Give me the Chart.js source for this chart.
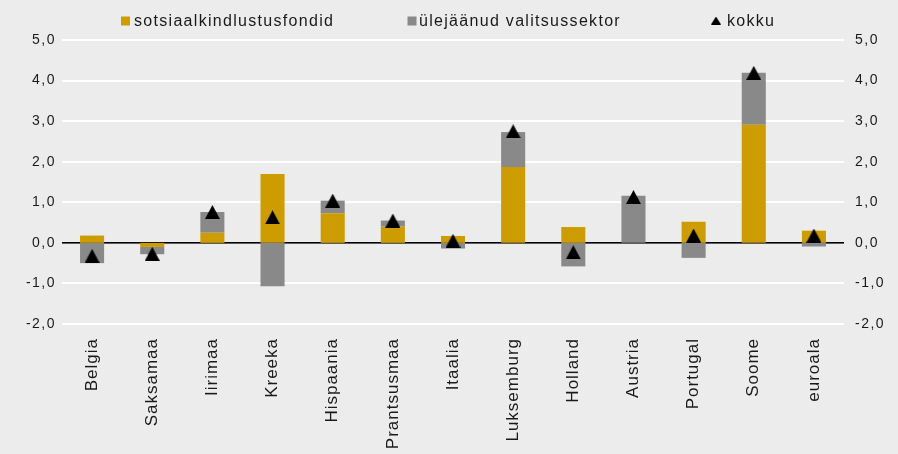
<!DOCTYPE html>
<html><head><meta charset="utf-8">
<script src="https://cdn.jsdelivr.net/npm/chart.js@4/dist/chart.umd.min.js"></script>
<style>html,body{margin:0;padding:0;background:#ececec;} #wrap{width:898px;height:454px;position:relative;}</style>
</head><body><div id="wrap"><canvas id="c"></canvas></div>
<script>
const categories = ['Belgia','Saksamaa','Iirimaa','Kreeka','Hispaania','Prantsusmaa','Itaalia','Luksemburg','Holland','Austria','Portugal','Soome','euroala'];
const socialFunds = [0.18, -0.10, 0.25, 1.70, 0.73, 0.40, 0.17, 1.87, 0.39, 0.00, 0.52, 2.91, 0.30];
const otherGov = [-0.50, -0.18, 0.51, -1.07, 0.31, 0.15, -0.14, 0.86, -0.58, 1.16, -0.37, 1.28, -0.09];
const total = [-0.32, -0.27, 0.76, 0.63, 1.04, 0.55, 0.05, 2.75, -0.23, 1.13, 0.18, 4.19, 0.18];
const yTickValues = [-2, -1, 0, 1, 2, 3, 4, 5];
const seriesLabels = ['sotsiaalkindlustusfondid', 'ülejäänud valitsussektor', 'kokku'];

const FONT = "'Liberation Sans', Arial, Helvetica, sans-serif";
const TEXT = '#1a1a1a';
const YELLOW = '#cc9c00';
const GREY = '#898989';

function triangleCanvas(w, h) {
  const c = document.createElement('canvas');
  c.width = w; c.height = h;
  const g = c.getContext('2d');
  g.fillStyle = '#000';
  g.beginPath(); g.moveTo(w / 2, 0); g.lineTo(w, h); g.lineTo(0, h); g.closePath(); g.fill();
  return c;
}
const tri = triangleCanvas(15, 14);
const triSmall = triangleCanvas(10, 8);

const fmt = v => Number(v).toFixed(1).replace('.', ',');

const spacingPlugin = {
  id: 'spacing',
  afterLayout(chart) {
    const sp = { x: '1px', y: '1.5px', y2: '1.5px' };
    for (const id in sp) {
      const s = chart.scales[id];
      if (!s || s._wrappedLabels) continue;
      const orig = s.drawLabels;
      s.drawLabels = function (a) {
        const ctx = this.ctx; ctx.save();
        try { ctx.letterSpacing = sp[id]; } catch (e) {}
        orig.call(this, a); ctx.restore();
      };
      s._wrappedLabels = true;
    }
  }
};

// white grid lines under the bars and the black zero line, positioned by the y scale
const gridPlugin = {
  id: 'hgrid',
  beforeDatasetsDraw(chart) {
    const ctx = chart.ctx, y = chart.scales.y, a = chart.chartArea;
    ctx.save();
    y.ticks.forEach(t => {
      if (t.value === 0) return;
      const py = Math.round(y.getPixelForValue(t.value));
      ctx.fillStyle = '#ffffff';
      ctx.fillRect(a.left, py - 1, a.right - a.left, 2);
    });
    const p0 = Math.round(y.getPixelForValue(0));
    ctx.fillStyle = '#000000';
    ctx.fillRect(a.left, p0 - 1, a.right - a.left, 1.6);
    ctx.restore();
  }
};

const legendPlugin = {
  id: 'customLegend',
  afterDraw(chart) {
    const ctx = chart.ctx;
    const ds = chart.data.datasets;
    ctx.save();
    ctx.font = '16px ' + FONT;
    ctx.fillStyle = TEXT;
    ctx.textBaseline = 'alphabetic';
    try { ctx.letterSpacing = '1.3px'; } catch (e) {}
    const pos = [{ m: 121, t: 134 }, { m: 407.5, t: 419 }, { m: 711, t: 727 }];
    ds.forEach((d, i) => {
      if (i < 2) {
        ctx.fillStyle = d.backgroundColor;
        ctx.fillRect(pos[i].m, 16.5, 9, 9);
      } else {
        ctx.drawImage(triSmall, pos[i].m, 16.5);
      }
      ctx.fillStyle = TEXT;
      ctx.fillText(d.label, pos[i].t, 25.5);
    });
    try { ctx.letterSpacing = '0px'; } catch (e) {}
    ctx.restore();
  }
};

new Chart(document.getElementById('c'), {
  data: {
    labels: categories,
    datasets: [
      { type: 'bar', label: seriesLabels[0], data: socialFunds, backgroundColor: YELLOW, barPercentage: 0.4, categoryPercentage: 1, stack: 's', order: 1 },
      { type: 'bar', label: seriesLabels[1], data: otherGov, backgroundColor: GREY, barPercentage: 0.4, categoryPercentage: 1, stack: 's', order: 1 },
      { type: 'line', label: seriesLabels[2], data: total, showLine: false, pointStyle: tri, pointRadius: 7, pointHoverRadius: 7, borderColor: '#000', backgroundColor: '#000', stack: 't', order: 0 }
    ]
  },
  options: {
    responsive: true,
    maintainAspectRatio: false,
    animation: false,
    devicePixelRatio: 1,
    layout: { padding: { top: 40, left: 0, right: 0, bottom: 0 } },
    plugins: { legend: { display: false }, tooltip: { enabled: false } },
    scales: {
      x: {
        stacked: true,
        grid: { display: false, drawTicks: false },
        border: { display: false },
        ticks: { autoSkip: false, maxRotation: 90, minRotation: 90, padding: 14, color: TEXT, font: { size: 17, family: FONT } },
        afterFit: s => { s.height = 130; }
      },
      y: {
        position: 'left', stacked: true, min: -2, max: 5,
        afterBuildTicks: s => { s.ticks = yTickValues.map(v => ({ value: v })); },
        ticks: { padding: 6, color: TEXT, font: { size: 14, family: FONT }, callback: fmt },
        grid: { display: false, drawTicks: false },
        border: { display: false },
        afterFit: s => { s.width = 62; }
      },
      y2: {
        position: 'right', min: -2, max: 5,
        afterBuildTicks: s => { s.ticks = yTickValues.map(v => ({ value: v })); },
        ticks: { padding: 11, color: TEXT, font: { size: 14, family: FONT }, callback: fmt },
        grid: { display: false, drawTicks: false },
        border: { display: false },
        afterFit: s => { s.width = 54; }
      }
    }
  },
  plugins: [spacingPlugin, gridPlugin, legendPlugin]
});
</script>
</body></html>
